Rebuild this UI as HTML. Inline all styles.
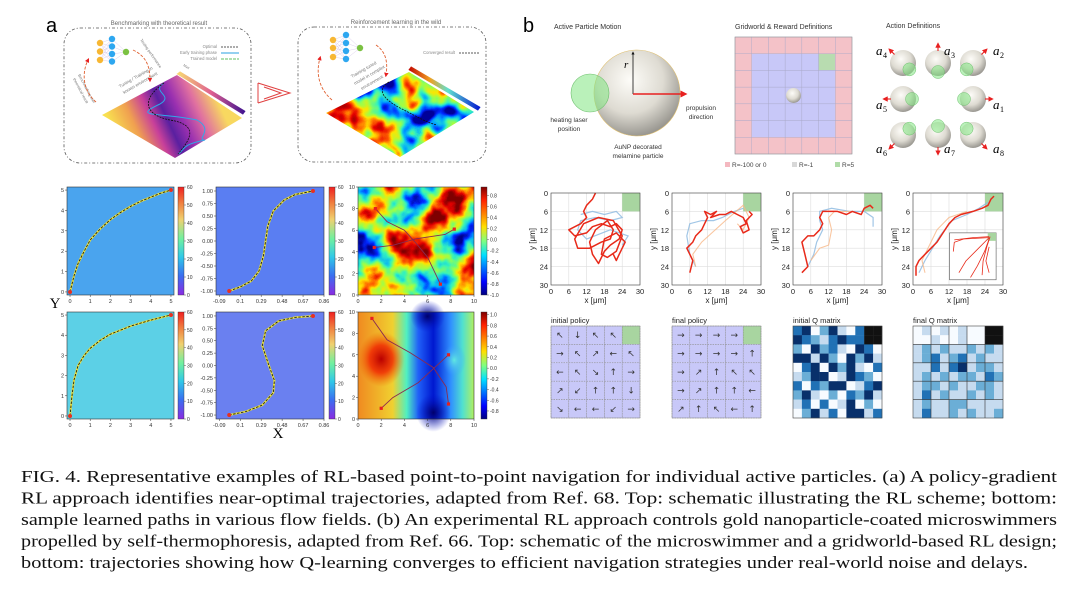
<!DOCTYPE html>
<html><head><meta charset="utf-8"><style>
html,body{margin:0;padding:0;background:#fff;}
svg{display:block;font-family:"Liberation Sans",sans-serif;}
.cap{font-family:"Liberation Serif",serif;font-size:17px;fill:#111;}
</style></head><body>
<svg id="fig" width="1080" height="615" viewBox="0 0 1080 615" xmlns="http://www.w3.org/2000/svg">
<defs>
<linearGradient id="rainbow" x1="0" y1="1" x2="0" y2="0">
<stop offset="0" stop-color="#8a2be2"/><stop offset="0.18" stop-color="#3a6ff0"/><stop offset="0.35" stop-color="#30c8e8"/><stop offset="0.52" stop-color="#70f0a0"/><stop offset="0.7" stop-color="#f0d070"/><stop offset="0.85" stop-color="#f08040"/><stop offset="1" stop-color="#f02020"/></linearGradient>
<linearGradient id="jet" x1="0" y1="1" x2="0" y2="0">
<stop offset="0" stop-color="#00007f"/><stop offset="0.12" stop-color="#0000ff"/><stop offset="0.37" stop-color="#00e0ff"/><stop offset="0.5" stop-color="#80ff80"/><stop offset="0.63" stop-color="#ffe000"/><stop offset="0.88" stop-color="#ff2000"/><stop offset="1" stop-color="#7f0000"/></linearGradient>
<filter id="jetnoise" x="0" y="0" width="1" height="1" color-interpolation-filters="sRGB">
<feTurbulence type="fractalNoise" baseFrequency="0.022" numOctaves="4" seed="7"/>
<feColorMatrix type="matrix" values="2.1 0 0 0 -0.55  2.1 0 0 0 -0.55  2.1 0 0 0 -0.55  0 0 0 0 1"/>
<feComponentTransfer><feFuncR type="table" tableValues="0 0 0 0.2 0.6 1 1 0.9 0.5"/><feFuncG type="table" tableValues="0 0.15 0.65 0.95 1 0.9 0.4 0 0"/><feFuncB type="table" tableValues="0.55 1 1 0.75 0.3 0 0 0 0"/></feComponentTransfer>
</filter>
<filter id="jetnoise2" x="0" y="0" width="1" height="1" color-interpolation-filters="sRGB">
<feTurbulence type="fractalNoise" baseFrequency="0.03" numOctaves="3" seed="3"/>
<feColorMatrix type="matrix" values="2.2 0 0 0 -0.6  2.2 0 0 0 -0.6  2.2 0 0 0 -0.6  0 0 0 0 1"/>
<feComponentTransfer><feFuncR type="table" tableValues="0 0 0 0.2 0.6 1 1 0.9 0.6"/><feFuncG type="table" tableValues="0 0.15 0.65 0.95 1 0.9 0.4 0 0"/><feFuncB type="table" tableValues="0.6 1 1 0.75 0.3 0 0 0 0"/></feComponentTransfer>
</filter>
<linearGradient id="magma" gradientUnits="userSpaceOnUse" x1="118" y1="140" x2="215" y2="95">
<stop offset="0" stop-color="#f8e050"/><stop offset="0.2" stop-color="#f0a050"/><stop offset="0.37" stop-color="#c8409a"/><stop offset="0.5" stop-color="#5a20a0"/><stop offset="0.63" stop-color="#9a30b0"/><stop offset="0.8" stop-color="#e070a0"/><stop offset="1" stop-color="#f8d860"/></linearGradient>
<linearGradient id="stripA" x1="0" y1="0" x2="1" y2="0"><stop offset="0" stop-color="#f8e070"/><stop offset="0.5" stop-color="#e06090"/><stop offset="1" stop-color="#3a1090"/></linearGradient>
<linearGradient id="stripB" x1="0" y1="0" x2="1" y2="0"><stop offset="0" stop-color="#c00000"/><stop offset="0.3" stop-color="#f0a020"/><stop offset="0.55" stop-color="#60e0d0"/><stop offset="1" stop-color="#0010d0"/></linearGradient>
<radialGradient id="sph" cx="0.42" cy="0.35" r="0.7"><stop offset="0" stop-color="#fdfcf8"/><stop offset="0.55" stop-color="#dedbd2"/><stop offset="1" stop-color="#8e8c86"/></radialGradient>
<linearGradient id="field6" x1="0" y1="0" x2="1" y2="0">
<stop offset="0" stop-color="#f08a20"/><stop offset="0.3" stop-color="#f0d030"/><stop offset="0.42" stop-color="#50f0c0"/><stop offset="0.52" stop-color="#2060f8"/><stop offset="0.65" stop-color="#0018d0"/><stop offset="0.8" stop-color="#3090ff"/><stop offset="0.9" stop-color="#50e0d0"/><stop offset="1" stop-color="#b0f060"/></linearGradient>
<radialGradient id="redblob"><stop offset="0" stop-color="#b80000"/><stop offset="0.5" stop-color="#f02000" stop-opacity="0.8"/><stop offset="1" stop-color="#f06000" stop-opacity="0"/></radialGradient>
<radialGradient id="blueblob"><stop offset="0" stop-color="#00006a"/><stop offset="1" stop-color="#0010d0" stop-opacity="0"/></radialGradient>
<radialGradient id="cyanblob"><stop offset="0" stop-color="#60e8e0"/><stop offset="1" stop-color="#40a0ff" stop-opacity="0"/></radialGradient>
<clipPath id="clipD2"><polygon points="326,113 409,72 474,112 400,157"/></clipPath>
<marker id="arrR" viewBox="0 0 10 10" refX="5" refY="5" markerWidth="5" markerHeight="5" orient="auto"><path d="M0,0 L10,5 L0,10 z" fill="#e82020"/></marker>
<marker id="arrK" viewBox="0 0 10 10" refX="5" refY="5" markerWidth="4" markerHeight="4" orient="auto"><path d="M0,0 L10,5 L0,10 z" fill="#111"/></marker>
</defs>

<text x="46" y="32" font-size="20">a</text>
<rect x="64" y="28" width="187" height="135" rx="16" fill="none" stroke="#555" stroke-width="0.8" stroke-dasharray="3,2,1,2"/>
<text x="159" y="25" font-size="6" fill="#666" text-anchor="middle">Benchmarking with theoretical result</text>
<rect x="298" y="27" width="188" height="135" rx="16" fill="none" stroke="#555" stroke-width="0.8" stroke-dasharray="3,2,1,2"/>
<text x="396" y="24" font-size="6" fill="#666" text-anchor="middle">Reinforcement learning in the wild</text>
<g fill="none" stroke="#e04040" stroke-width="1">
<polyline points="258,83 290,93 258,103"/><polyline points="264,87 281,93 264,99"/><line x1="258" y1="83" x2="258" y2="103"/></g>
<polygon points="102,115 177,75 242,118 175,158" fill="url(#magma)"/>
<polygon points="176,74 180,71 246,111 243,115" fill="url(#stripA)" stroke="#fff" stroke-width="0.6"/>
<text x="183" y="66" font-size="3.5" fill="#777" transform="rotate(30 183 66)">Max</text>
<g clip-path="url(#clipD2)"><rect x="320" y="68" width="160" height="92" filter="url(#jetnoise2)"/></g>
<polygon points="408,70 411,66 481,107 478,111" fill="url(#stripB)" stroke="#fff" stroke-width="0.6"/>
<text x="217" y="48" font-size="4.2" fill="#888" text-anchor="end">Optimal</text>
<line x1="221" y1="47" x2="239" y2="47" stroke="#222" stroke-width="0.8" stroke-dasharray="2,1"/>
<text x="217" y="54" font-size="4.2" fill="#888" text-anchor="end">Early training phase</text>
<line x1="221" y1="53" x2="239" y2="53" stroke="#2aa0e0" stroke-width="1"/>
<text x="217" y="60" font-size="4.2" fill="#888" text-anchor="end">Trained model</text>
<line x1="221" y1="59" x2="239" y2="59" stroke="#60c060" stroke-width="1" stroke-dasharray="3,1"/>
<text x="455" y="54" font-size="4.2" fill="#888" text-anchor="end">Converged result</text>
<line x1="459" y1="53" x2="479" y2="53" stroke="#222" stroke-width="0.8" stroke-dasharray="2,1"/>
<path d="M164,83 C150,92 175,95 160,104 C130,118 160,112 197,120 C215,130 195,140 205,140 C180,145 185,150 178,154" fill="none" stroke="#30a8e8" stroke-width="1"/>
<path d="M164,83 C140,100 145,115 170,120 C200,125 190,140 178,154" fill="none" stroke="#111" stroke-width="0.8" stroke-dasharray="2,1"/>
<path d="M389,82 C375,90 385,100 400,108 C420,118 425,122 437,125" fill="none" stroke="#111" stroke-width="0.8" stroke-dasharray="2,1"/>
<text x="120" y="88" font-size="4.5" fill="#777" transform="rotate(-30 120 88)">Tuning / Training in</text>
<text x="124" y="94" font-size="4.5" fill="#777" transform="rotate(-30 124 94)">known environment</text>
<text x="352" y="78" font-size="4.5" fill="#777" transform="rotate(-30 352 78)">Training tuned</text>
<text x="355" y="85" font-size="4.5" fill="#777" transform="rotate(-30 355 85)">model in complex</text>
<text x="362" y="90" font-size="4.5" fill="#777" transform="rotate(-30 362 90)">environment</text>
<text x="78" y="75" font-size="3.8" fill="#777" transform="rotate(62 78 75)">Benchmarking with</text>
<text x="73" y="79" font-size="3.8" fill="#777" transform="rotate(62 73 79)">theoretical result</text>
<text x="140" y="40" font-size="3.8" fill="#777" transform="rotate(55 140 40)">Testing performance</text>
<path d="M96,102 C82,90 82,72 88,60" fill="none" stroke="#e06030" stroke-width="0.9" stroke-dasharray="3,1.5" marker-end="url(#arrR)"/>
<path d="M133,50 C146,56 150,66 150,80" fill="none" stroke="#e06030" stroke-width="0.9" stroke-dasharray="3,1.5" marker-end="url(#arrR)"/>
<path d="M332,100 C318,88 316,72 320,58" fill="none" stroke="#e06030" stroke-width="0.9" stroke-dasharray="3,1.5" marker-end="url(#arrR)"/>
<path d="M376,45 C386,52 388,62 386,75" fill="none" stroke="#e06030" stroke-width="0.9" stroke-dasharray="3,1.5" marker-end="url(#arrR)"/>
<g id="nets"></g>

<text x="523" y="32" font-size="20">b</text>
<text x="554" y="29" font-size="7" fill="#333">Active Particle Motion</text>
<text x="735" y="29" font-size="7" fill="#333">Gridworld &amp; Reward Definitions</text>
<text x="886" y="28" font-size="7" fill="#333">Action Definitions</text>
<circle cx="637" cy="93" r="43" fill="url(#sph)" stroke="#e0c070" stroke-width="0.6"/>
<circle cx="590" cy="93" r="19" fill="rgba(130,230,130,0.55)" stroke="#70c070" stroke-width="0.6"/>
<line x1="633" y1="94" x2="633" y2="53" stroke="#111" stroke-width="0.8" marker-end="url(#arrK)"/>
<text x="624" y="68" font-size="11" font-style="italic" font-family="Liberation Serif,serif">r</text>
<line x1="633" y1="94" x2="684" y2="94" stroke="#e82020" stroke-width="1.4" marker-end="url(#arrR)"/>
<text x="569" y="122" font-size="6.5" fill="#333" text-anchor="middle">heating laser</text>
<text x="569" y="131" font-size="6.5" fill="#333" text-anchor="middle">position</text>
<text x="701" y="110" font-size="6.5" fill="#333" text-anchor="middle">propulsion</text>
<text x="701" y="119" font-size="6.5" fill="#333" text-anchor="middle">direction</text>
<text x="638" y="149" font-size="6.5" fill="#333" text-anchor="middle">AuNP decorated</text>
<text x="638" y="158" font-size="6.5" fill="#333" text-anchor="middle">melamine particle</text>
<g id="gridworld"></g>
<rect x="725" y="162" width="5" height="5" fill="#f4b8c0"/><text x="732" y="167" font-size="6.5" fill="#444">R=-100 or 0</text>
<rect x="792" y="162" width="5" height="5" fill="#d8d8d8"/><text x="799" y="167" font-size="6.5" fill="#444">R=-1</text>
<rect x="835" y="162" width="5" height="5" fill="#b0dca8"/><text x="842" y="167" font-size="6.5" fill="#444">R=5</text>
<g id="actions"></g>
<g id="charts"></g>

<text class="cap" x="21" y="482" textLength="1036" lengthAdjust="spacingAndGlyphs">FIG. 4.  Representative examples of RL-based point-to-point navigation for individual active particles.  (a) A policy-gradient</text>
<text class="cap" x="21" y="503.5" textLength="1036" lengthAdjust="spacingAndGlyphs">RL approach identifies near-optimal trajectories, adapted from Ref.  68.  Top: schematic illustrating the RL scheme; bottom:</text>
<text class="cap" x="21" y="525" textLength="1036" lengthAdjust="spacingAndGlyphs">sample learned paths in various flow fields.  (b) An experimental RL approach controls gold nanoparticle-coated microswimmers</text>
<text class="cap" x="21" y="546.5" textLength="1036" lengthAdjust="spacingAndGlyphs">propelled by self-thermophoresis, adapted from Ref.  66.  Top: schematic of the microswimmer and a gridworld-based RL design;</text>
<text class="cap" x="21" y="568" textLength="1007" lengthAdjust="spacingAndGlyphs">bottom: trajectories showing how Q-learning converges to efficient navigation strategies under real-world noise and delays.</text>
</svg>
<script>
const a1Path=[[0,0],[0.2,0.8],[0.4,1.4],[0.7,2.0],[1,2.55],[1.5,3.1],[2,3.55],[2.5,3.9],[3,4.2],[3.5,4.45],[4,4.65],[4.5,4.85],[5,5]];
const a2Path=[[0,-1],[0.1,-0.92],[0.2,-0.8],[0.27,-0.6],[0.31,-0.3],[0.33,0],[0.35,0.3],[0.4,0.6],[0.5,0.82],[0.6,0.93],[0.76,1]];
const a3PathA=[[1.5,8],[2.5,6.8],[4,6],[5,4.8],[6,3.5],[7.1,1]];
const a3PathB=[[1.4,4.4],[3,4.6],[5,5.2],[7.5,5.6],[8.3,6.1]];
const a4Path=[[0,0],[0.1,1],[0.2,1.8],[0.4,2.5],[0.7,3.0],[1,3.35],[1.5,3.75],[2,4.05],[3,4.45],[4,4.75],[5,5]];
const a5Path=[[0,-1],[0.15,-0.93],[0.3,-0.8],[0.4,-0.55],[0.41,-0.3],[0.36,0],[0.3,0.4],[0.33,0.7],[0.45,0.9],[0.6,0.97],[0.76,1]];
const a6PathA=[[1.2,9.4],[2.5,7.4],[4.5,6.2],[6.5,4.8],[7.6,3],[7.8,1.4]];
const a6PathB=[[2,1],[3,2],[5.2,3.4],[6.6,4.8],[7.8,6]];
const ticks05=[0,1,2,3,4,5];
const a2XTicks=[-0.09,0.1,0.29,0.48,0.67,0.86];
const a2YTicks=[-1,-0.75,-0.5,-0.25,0,0.25,0.5,0.75,1];
const ticks010=[0,2,4,6,8,10];
const cb60Ticks=[0,10,20,30,40,50,60];
const cb3Ticks=[-1,-0.8,-0.6,-0.4,-0.2,0,0.2,0.4,0.6,0.8];
const cb6Ticks=[-0.8,-0.6,-0.4,-0.2,0,0.2,0.4,0.6,0.8,1.0];

const b1Red=[[15,0],[14,2],[12,4],[11,6],[12,8],[10,10],[6,12],[8,14],[12,13],[14,11],[17,10],[20,11],[22,10],[24,12],[23,15],[20,17],[18,19],[16,23],[14,20],[13,16],[15,12],[19,9],[21,12],[20,15],[17,16],[13,18],[9,18],[8,15],[11,10],[16,8],[21,9],[24,14],[22,19],[19,21],[17,20],[18,15],[22,13],[25,16],[23,20],[22,22],[21,20]];
const b1Blue=[[10,7],[14,6],[18,7],[22,6],[24,8],[20,9],[15,8],[10,9],[9,12],[12,15],[20,12],[26,14],[24,17]];
const b1Orange=[];
const b2Red=[[6,26],[7,22],[6,20],[5,18],[7,16],[8,14],[10,12],[11,10],[12,8],[11,6],[13,7],[15,6],[13,8],[16,7],[18,7],[20,6],[22,7],[24,8],[25,10],[23,11],[24,13],[26,12],[25,9],[27,7],[26,6]];
const b2Blue=[[8,24],[6,20],[5,14],[6,10],[10,9],[14,9],[17,8],[21,6],[24,5]];
const b2Orange=[[8,24],[7,20],[10,16],[18,9],[24,4],[26,8],[24,12],[22,10]];
const b3Red=[[3,26],[5,24],[4,20],[3,16],[5,14],[7,14],[9,12],[10,10],[9,8],[10,6],[12,6],[15,6],[18,7],[20,6],[23,7],[24,5],[26,4],[27,5]];
const b3Blue=[[5,24],[7,20],[8,16],[10,12],[9,9],[9,6],[13,5],[19,6],[24,6],[27,8],[27,11]];
const b3Orange=[[6,22],[9,18],[12,17],[13,12],[12,8],[14,6],[20,6]];
const b4Red=[[1,27],[1,24],[2,22],[4,20],[6,18],[8,16],[10,13],[12,10],[14,8],[16,7],[20,6],[23,5],[25,4],[26,2],[27,1]];
const b4Blue=[[2,26],[4,22],[9,14],[13,9],[18,7],[22,5],[25,3]];
const b4Orange=[[4,26],[3,22],[8,12],[12,8],[18,6]];
const bTicks=[0,6,12,18,24,30];
const initPolicy=[["↖","↓","↖","↖",""],["→","↖","↗","←","↖"],["←","↖","↘","↑","→"],["↗","↙","↑","↑","↓"],["↘","←","←","↙","→"]];
const finalPolicy=[["→","→","→","→",""],["→","→","→","→","↑"],["→","↗","↑","↖","↖"],["→","↗","↑","↑","←"],["↗","↑","↖","←","↑"]];
const initQ=["3402410355","4321343355","2042310430","4414204241","0340424103","1244014320","3032440134","2410203241","1303014020","0241304413"];
const finalQ=["0101010055","0010010055","1212112121","1231231211","1131341221","1212122132","1221211221","1312112121","1211221111","1311212112"];

const NS='http://www.w3.org/2000/svg';
const root=document.getElementById('charts');
function mk(tag,attrs,parent){const e=document.createElementNS(NS,tag);for(const k in attrs)e.setAttribute(k,attrs[k]);(parent||root).appendChild(e);return e;}
function lin(d0,d1,r0,r1){return v=>r0+(v-d0)/(d1-d0)*(r1-r0);}
function pathD(pts,sx,sy){return pts.map((p,i)=>(i?'L':'M')+sx(p[0]).toFixed(1)+','+sy(p[1]).toFixed(1)).join(' ');}
function fmt(v){return (Math.round(v*100)/100).toString();}

const nets=document.getElementById('nets');
[[100,112,126,[43,51.5,60],[39,46.5,54,61.5],52],[333,346,360,[40,48,57],[35,43,51,59],48]].forEach((n,ni)=>{
  const g=mk('g',{},nets);
  
  
  n[3].forEach(y=>n[4].forEach(y2=>mk('line',{x1:n[0],y1:y,x2:n[1],y2:y2,stroke:'#c8b0e0','stroke-width':0.3},g)));
  n[4].forEach(y=>mk('line',{x1:n[1],y1:y,x2:n[2],y2:n[5],stroke:'#c8b0e0','stroke-width':0.3},g));
  n[3].forEach(y=>mk('circle',{cx:n[0],cy:y,r:3.2,fill:'#f7b733'},g));
  n[4].forEach(y=>mk('circle',{cx:n[1],cy:y,r:3.2,fill:'#2ea7f0'},g));
  mk('circle',{cx:n[2],cy:n[5],r:3.2,fill:'#7bc142'},g);
});

function aPlot(name,x0,y0,w,h,xd,yd,xt,yt,fill){
  const g=mk('g',{});
  
  
  const sx=lin(xd[0],xd[1],x0,x0+w), sy=lin(yd[0],yd[1],y0+h,y0);
  if(fill==='noise'){mk('rect',{x:x0,y:y0,width:w,height:h,filter:'url(#jetnoise)'},g);}
  else if(fill==='smooth'){
    mk('rect',{x:x0,y:y0,width:w,height:h,fill:'url(#field6)'},g);
    mk('ellipse',{cx:sx(2),cy:sy(5.6),rx:w*0.2,ry:h*0.26,fill:'url(#redblob)'},g);
    mk('ellipse',{cx:sx(6.5),cy:sy(0.6),rx:w*0.15,ry:h*0.18,fill:'url(#blueblob)'},g);
    mk('ellipse',{cx:sx(6),cy:sy(9.6),rx:w*0.15,ry:h*0.15,fill:'url(#blueblob)'},g);
    mk('ellipse',{cx:sx(8.3),cy:sy(5.5),rx:w*0.1,ry:h*0.15,fill:'url(#cyanblob)'},g);
  } else mk('rect',{x:x0,y:y0,width:w,height:h,fill:fill},g);
  mk('rect',{x:x0,y:y0,width:w,height:h,fill:'none',stroke:'#333','stroke-width':0.6},g);
  xt.forEach(v=>{const X=sx(v);mk('line',{x1:X,y1:y0+h,x2:X,y2:y0+h+2,stroke:'#333','stroke-width':0.5},g);
    const t=mk('text',{x:X,y:y0+h+8,'font-size':5.5,'text-anchor':'middle',fill:'#333'},g);t.textContent=fmt(v);});
  yt.forEach(v=>{const Y=sy(v);mk('line',{x1:x0-2,y1:Y,x2:x0,y2:Y,stroke:'#333','stroke-width':0.5},g);
    const t=mk('text',{x:x0-3,y:Y+2,'font-size':5.5,'text-anchor':'end',fill:'#333'},g);t.textContent=(yd[1]<=1.1&&yd[0]<0)?v.toFixed(2):fmt(v);});
  return {g,sx,sy};
}
function colorbar(name,x0,y0,w,h,grad,ticks,d){
  const g=mk('g',{});
  
  
  mk('rect',{x:x0,y:y0,width:w,height:h,fill:'url(#'+grad+')',stroke:'#333','stroke-width':0.4},g);
  const s=lin(d[0],d[1],y0+h,y0);
  ticks.forEach(v=>{mk('line',{x1:x0+w,y1:s(v),x2:x0+w+2,y2:s(v),stroke:'#333','stroke-width':0.4},g);
    const t=mk('text',{x:x0+w+3,y:s(v)+2,'font-size':5,fill:'#333'},g);t.textContent=(d[1]<=1.1)?v.toFixed(1):v;});
}
function optimal(p,pts){
  mk('path',{d:pathD(pts,p.sx,p.sy),fill:'none',stroke:'#e8e040','stroke-width':2},p.g);
  mk('path',{d:pathD(pts,p.sx,p.sy),fill:'none',stroke:'#111','stroke-width':0.8,'stroke-dasharray':'2.5,1.5'},p.g);
  [pts[0],pts[pts.length-1]].forEach(q=>mk('circle',{cx:p.sx(q[0]),cy:p.sy(q[1]),r:2,fill:'#e83020'},p.g));
}
function wild(p,pts){
  mk('path',{d:pathD(pts,p.sx,p.sy),fill:'none',stroke:'#8a2a50','stroke-width':0.9},p.g);
  [pts[0],pts[pts.length-1]].forEach(q=>mk('rect',{x:p.sx(q[0])-1.6,y:p.sy(q[1])-1.6,width:3.2,height:3.2,fill:'#e82020'},p.g));
}
let p;
p=aPlot('flow-plot-1',67,187,107,108,[-0.15,5.15],[-0.15,5.15],ticks05,ticks05,'#4aa4ee');optimal(p,a1Path);
colorbar('colorbar-1',178,187,6,108,'rainbow',cb60Ticks,[0,60]);
p=aPlot('flow-plot-2',216,187,108,108,[-0.12,0.86],[-1.08,1.08],a2XTicks,a2YTicks,'#5a7ef2');optimal(p,a2Path);
colorbar('colorbar-2',329,187,6,108,'rainbow',cb60Ticks,[0,60]);
p=aPlot('random-field-plot-1',358,187,116,108,[0,10],[0,10],ticks010,ticks010,'noise');wild(p,a3PathA);wild(p,a3PathB);
colorbar('colorbar-3',481,187,6,108,'jet',cb3Ticks,[-1,0.95]);
p=aPlot('flow-plot-3',67,312,107,107,[-0.15,5.15],[-0.15,5.15],ticks05,ticks05,'#5cd0e6');optimal(p,a4Path);
colorbar('colorbar-4',178,312,6,107,'rainbow',cb60Ticks,[0,60]);
p=aPlot('flow-plot-4',216,312,108,107,[-0.12,0.86],[-1.08,1.08],a2XTicks,a2YTicks,'#6a80f0');optimal(p,a5Path);
colorbar('colorbar-5',329,312,6,107,'rainbow',cb60Ticks,[0,60]);
p=aPlot('smooth-field-plot',358,312,116,107,[0,10],[0,10],ticks010,ticks010,'smooth');wild(p,a6PathA);wild(p,a6PathB);
colorbar('colorbar-6',481,312,6,107,'jet',cb6Ticks,[-0.95,1.05]);
let t=mk('text',{x:55,y:308,'font-size':15,'font-family':'Liberation Serif,serif','text-anchor':'middle'});t.textContent='Y';


t=mk('text',{x:278,y:438,'font-size':15,'font-family':'Liberation Serif,serif','text-anchor':'middle'});t.textContent='X';



const gw=document.getElementById('gridworld');


(function(){const x0=735,y0=37,c=(852-735)/7;
 for(let r=0;r<7;r++)for(let k=0;k<7;k++){let f='#c8c8f8';if(r==0||k==0||r==6||k==6)f='#f4c2c8';if(r==1&&k==5)f='#b8dcb0';
  mk('rect',{x:x0+k*c,y:y0+r*c,width:c,height:c,fill:f,stroke:'#a8a8c8','stroke-width':0.4},gw);}
 mk('rect',{x:x0,y:y0,width:7*c,height:7*c,fill:'none',stroke:'#999','stroke-width':0.6},gw);
 mk('circle',{cx:x0+3.5*c,cy:y0+3.5*c,r:7.5,fill:'url(#sph)'},gw);})();

const acts=document.getElementById('actions');
const actDirs=[[1,0,'1'],[1,-1,'2'],[0,-1,'3'],[-1,-1,'4'],[-1,0,'5'],[-1,1,'6'],[0,1,'7'],[1,1,'8']];
const actPos={'1':[973,99],'2':[973,63],'3':[938,63],'4':[903,63],'5':[903,99],'6':[903,135],'7':[938,135],'8':[973,135]};
actDirs.forEach(a=>{const c=actPos[a[2]],n=Math.hypot(a[0],a[1]),ux=a[0]/n,uy=a[1]/n;
  const g=mk('g',{},acts);
  
  
  mk('circle',{cx:c[0],cy:c[1],r:13,fill:'url(#sph)'},g);
  mk('circle',{cx:c[0]-ux*9,cy:c[1]-uy*9,r:6.5,fill:'rgba(130,230,130,0.55)',stroke:'#70c070','stroke-width':0.5},g);
  mk('line',{x1:c[0]+ux*12,y1:c[1]+uy*12,x2:c[0]+ux*18,y2:c[1]+uy*18,stroke:'#e82020','stroke-width':1.1,'marker-end':'url(#arrR)'},g);
  const lx=c[0]+(a[0]>0?20:a[0]<0?-27:6), ly=c[1]+(a[1]>0?18:a[1]<0?-8:10);
  const tt=mk('text',{x:lx,y:ly,'font-size':13,'font-style':'italic','font-family':'Liberation Serif,serif'},g);tt.textContent='a';
  const sub=mk('text',{x:lx+7,y:ly+3,'font-size':8,'font-family':'Liberation Serif,serif'},g);sub.textContent=a[2];
});

function bTraj(name,x0,y0,w,h,red,blue,orange){
  const g=mk('g',{});
  
  
  const sx=lin(0,30,x0,x0+w), sy=lin(0,30,y0,y0+h);
  mk('rect',{x:x0,y:y0,width:w,height:h,fill:'#fff'},g);
  bTicks.forEach(v=>{mk('line',{x1:sx(v),y1:y0,x2:sx(v),y2:y0+h,stroke:'#ddd','stroke-width':0.6},g);mk('line',{x1:x0,y1:sy(v),x2:x0+w,y2:sy(v),stroke:'#ddd','stroke-width':0.6},g);
    let t=mk('text',{x:sx(v),y:y0+h+9,'font-size':7.5,'text-anchor':'middle',fill:'#222'},g);t.textContent=v;
    t=mk('text',{x:x0-3,y:sy(v)+3,'font-size':7.5,'text-anchor':'end',fill:'#222'},g);t.textContent=v;});
  mk('rect',{x:sx(24),y:sy(0),width:sx(30)-sx(24),height:sy(6)-sy(0),fill:'#a8d5a0'},g);
  if(blue.length)mk('path',{d:pathD(blue,sx,sy),fill:'none',stroke:'#8ab8e0','stroke-width':1.2,opacity:0.8},g);
  if(orange.length)mk('path',{d:pathD(orange,sx,sy),fill:'none',stroke:'#f8b888','stroke-width':1.1,opacity:0.8},g);
  mk('path',{d:pathD(red,sx,sy),fill:'none',stroke:'#e82a1a','stroke-width':1.5,'stroke-linejoin':'round'},g);
  mk('rect',{x:x0,y:y0,width:w,height:h,fill:'none',stroke:'#444','stroke-width':0.6},g);
  let t=mk('text',{x:x0+w/2,y:y0+h+18,'font-size':8,'text-anchor':'middle',fill:'#222'},g);t.textContent='x [μm]';
  t=mk('text',{x:x0-16,y:y0+h/2,'font-size':8,'text-anchor':'middle',fill:'#222',transform:'rotate(-90 '+(x0-16)+' '+(y0+h/2)+')'},g);t.textContent='y [μm]';
  return {g,sx,sy};
}
bTraj('trajectory-plot-1',551,193,89,92,b1Red,b1Blue,b1Orange);
bTraj('trajectory-plot-2',672,193,89,92,b2Red,b2Blue,b2Orange);
bTraj('trajectory-plot-3',793,193,89,92,b3Red,b3Blue,b3Orange);
const tp4=bTraj('trajectory-plot-4',913,193,90,92,b4Red,b4Blue,b4Orange);
(function(){const g=mk('g',{},tp4.g);
 
 
 const x0=tp4.sx(12.2),y0=tp4.sy(13),w=tp4.sx(27.7)-x0,h=tp4.sy(28.3)-y0;
 mk('rect',{x:x0,y:y0,width:w,height:h,fill:'#fff',stroke:'#555','stroke-width':0.6},g);
 mk('rect',{x:x0+w*0.82,y:y0,width:w*0.18,height:h*0.17,fill:'#a8d5a0'},g);
 const lines=[[[0.1,0.15],[0.5,0.1],[0.85,0.08]],[[0.08,0.4],[0.1,0.2],[0.3,0.13],[0.85,0.1]],[[0.2,0.85],[0.35,0.6],[0.6,0.35],[0.85,0.1]],[[0.45,0.95],[0.6,0.7],[0.75,0.4],[0.86,0.1]],[[0.7,0.9],[0.72,0.6],[0.8,0.3],[0.87,0.08]],[[0.85,0.85],[0.78,0.6],[0.85,0.3]]];
 lines.forEach(l=>mk('path',{d:l.map((q,i)=>(i?'L':'M')+(x0+q[0]*w).toFixed(1)+','+(y0+q[1]*h).toFixed(1)).join(' '),fill:'none',stroke:'#e82a1a','stroke-width':0.8},g));})();

function policy(name,title,x0,y0,w,h,pol){
  const g=mk('g',{});
  
  
  const c=w/5,d=h/5;
  let t=mk('text',{x:x0,y:y0-3,'font-size':7.5,fill:'#222'},g);t.textContent=title;
  pol.forEach((row,r)=>row.forEach((a,k)=>{
    mk('rect',{x:x0+k*c,y:y0+r*d,width:c,height:d,fill:(r==0&&k==4)?'#a8d5a0':'#c8c8f8',stroke:'#888','stroke-width':0.5,'stroke-dasharray':'1.5,1'},g);
    if(a){const s=mk('text',{x:x0+k*c+c/2,y:y0+r*d+d/2+3,'font-size':9,'text-anchor':'middle',fill:'#333','font-family':'DejaVu Sans,sans-serif'},g);s.textContent=a;}
  }));
  mk('rect',{x:x0,y:y0,width:w,height:h,fill:'none',stroke:'#888','stroke-width':0.5},g);
}
policy('initial-policy-grid','initial policy',551,326,89,92,initPolicy);
policy('final-policy-grid','final policy',672,326,89,92,finalPolicy);
const blues=['#f7fbff','#c6dbef','#6baed6','#2171b5','#08306b','#111111'];
function qmat(name,title,x0,y0,w,h,q,thick){
  const g=mk('g',{});
  
  
  let t=mk('text',{x:x0,y:y0-3,'font-size':7.5,fill:'#222'},g);t.textContent=title;
  const c=w/10,d=h/10;
  q.forEach((row,r)=>row.split('').forEach((v,k)=>mk('rect',{x:x0+k*c,y:y0+r*d,width:c+0.2,height:d+0.2,fill:blues[+v]},g)));
  if(thick)for(let i=1;i<5;i++){mk('line',{x1:x0+i*2*c,y1:y0,x2:x0+i*2*c,y2:y0+h,stroke:'#333','stroke-width':0.6},g);mk('line',{x1:x0,y1:y0+i*2*d,x2:x0+w,y2:y0+i*2*d,stroke:'#333','stroke-width':0.6},g);}
  mk('rect',{x:x0,y:y0,width:w,height:h,fill:'none',stroke:'#444','stroke-width':0.6},g);
}
qmat('initial-q-matrix','initial Q matrix',793,326,89,92,initQ,false);
qmat('final-q-matrix','final Q matrix',913,326,90,92,finalQ,true);
</script>
</body></html>
